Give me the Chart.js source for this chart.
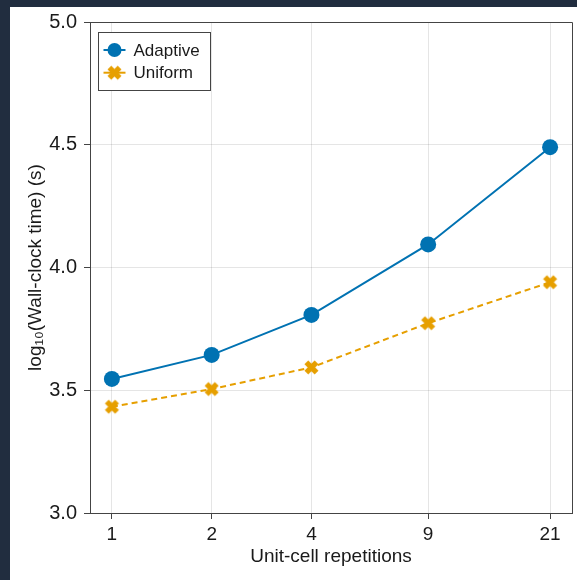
<!DOCTYPE html>
<html>
<head>
<meta charset="utf-8">
<script src="https://cdn.jsdelivr.net/npm/chart.js@4/dist/chart.umd.min.js"></script>
<style>
  html, body { margin: 0; padding: 0; background: #212d3f; width: 577px; height: 580px; overflow: hidden; }
  #panel { position: absolute; left: 10px; top: 7px; width: 567px; height: 573px; background: #ffffff; }
  canvas { display: block; }
</style>
</head>
<body>
<div id="panel"><canvas id="chart" width="567" height="573"></canvas></div>
<script>
// Unit-cell repetitions (x, log-scaled axis) and log10 wall-clock times
const repetitions = [1, 2, 4, 9, 21];
const adaptiveTimes = [3.546, 3.644, 3.807, 4.094, 4.490];
const uniformTimes = [3.433, 3.505, 3.593, 3.773, 3.940];
const yTicks = [3.0, 3.5, 4.0, 4.5, 5.0];
const seriesNames = ['Adaptive', 'Uniform'];

const BLUE = '#0072B2';
const ORANGE = '#E69F00';
const FONT = '"Liberation Sans", Arial, Helvetica, sans-serif';

// Bold "x" marker drawn once on a small canvas
function makeCross(size, color) {
  const c = document.createElement('canvas');
  c.width = size; c.height = size;
  const g = c.getContext('2d');
  g.strokeStyle = color;
  g.lineWidth = size * 0.32;
  g.lineCap = 'butt';
  const a = size * 0.2, b = size * 0.8;
  g.beginPath();
  g.moveTo(a, a); g.lineTo(b, b);
  g.moveTo(b, a); g.lineTo(a, b);
  g.stroke();
  return c;
}
const crossMarker = makeCross(17, ORANGE);

const toPoints = (xs, ys) => xs.map((x, i) => ({ x: x, y: ys[i] }));

// Keep the plot box fixed: no extra room for overhanging tick labels
function noLabelPadding(axis) {
  axis.paddingTop = 0;
  axis.paddingBottom = 0;
  axis.paddingLeft = 0;
  axis.paddingRight = 0;
}

// Top/right frame lines of the plot box
const framePlugin = {
  id: 'frame',
  beforeDatasetsDraw(chart) {
    const { ctx, chartArea: a } = chart;
    ctx.save();
    ctx.strokeStyle = '#444';
    ctx.lineWidth = 1;
    ctx.beginPath();
    ctx.moveTo(a.left, a.top + 0.5);
    ctx.lineTo(a.right + 0.5, a.top + 0.5);
    ctx.lineTo(a.right + 0.5, a.bottom);
    ctx.stroke();
    ctx.restore();
  }
};

// Boxed legend in the upper-left corner of the plot
const legendPlugin = {
  id: 'boxLegend',
  afterDraw(chart) {
    const { ctx, chartArea: a } = chart;
    const x0 = a.left + 8.5, y0 = a.top + 10.5, w = 112, h = 58;
    ctx.save();
    ctx.fillStyle = '#fff';
    ctx.fillRect(x0, y0, w, h);
    ctx.strokeStyle = '#444';
    ctx.lineWidth = 1;
    ctx.strokeRect(x0, y0, w, h);
    chart.data.datasets.forEach((ds, i) => {
      const cy = y0 + 17.5 + i * 22.7;
      const mx = x0 + 16;
      ctx.strokeStyle = ds.borderColor;
      ctx.lineWidth = 2;
      ctx.beginPath();
      ctx.moveTo(mx - 11, cy);
      ctx.lineTo(mx + 11, cy);
      ctx.stroke();
      if (i === 0) {
        ctx.fillStyle = ds.borderColor;
        ctx.beginPath();
        ctx.arc(mx, cy, 7, 0, Math.PI * 2);
        ctx.fill();
      } else {
        ctx.drawImage(crossMarker, mx - crossMarker.width / 2, cy - crossMarker.height / 2);
      }
      ctx.fillStyle = '#1a1a1a';
      ctx.font = '17px ' + FONT;
      ctx.textAlign = 'left';
      ctx.textBaseline = 'middle';
      ctx.fillText(ds.label, x0 + 35, cy + 1);
    });
    ctx.restore();
  }
};

new Chart(document.getElementById('chart'), {
  type: 'line',
  data: {
    datasets: [
      {
        label: seriesNames[0],
        data: toPoints(repetitions, adaptiveTimes),
        borderColor: BLUE,
        backgroundColor: BLUE,
        borderWidth: 2,
        pointStyle: 'circle',
        pointRadius: 8,
        pointHoverRadius: 8,
        pointBorderWidth: 0,
        tension: 0
      },
      {
        label: seriesNames[1],
        data: toPoints(repetitions, uniformTimes),
        borderColor: ORANGE,
        backgroundColor: ORANGE,
        borderWidth: 2,
        borderDash: [6, 4],
        pointStyle: crossMarker,
        pointRadius: 8,
        pointHoverRadius: 8,
        tension: 0
      }
    ]
  },
  options: {
    responsive: false,
    devicePixelRatio: 1,
    animation: false,
    events: [],
    layout: { autoPadding: false, padding: { left: 0, top: 15, right: 5, bottom: 0 } },
    plugins: { legend: { display: false }, tooltip: { enabled: false } },
    scales: {
      x: {
        type: 'logarithmic',
        min: Math.pow(10, -0.0661),
        max: Math.pow(10, 1.3883),
        afterBuildTicks(axis) { axis.ticks = repetitions.map(v => ({ value: v })); },
        afterFit(axis) { axis.height = 67; noLabelPadding(axis); },
        ticks: {
          callback: (v) => String(v),
          color: '#1a1a1a',
          font: { family: FONT, size: 19 },
          padding: 4,
          maxRotation: 0,
          autoSkip: false
        },
        grid: { color: 'rgba(0,0,0,0.1)', lineWidth: 1, tickLength: 6, tickColor: '#444', drawTicks: true },
        border: { color: '#444', width: 1 },
        title: {
          display: true,
          text: 'Unit-cell repetitions',
          color: '#1a1a1a',
          font: { family: FONT, size: 19 },
          padding: { top: 0, bottom: 12 }
        }
      },
      y: {
        type: 'linear',
        min: 3,
        max: 5,
        afterBuildTicks(axis) { axis.ticks = yTicks.map(v => ({ value: v })); },
        afterFit(axis) { axis.width = 80; noLabelPadding(axis); },
        ticks: {
          callback: (v) => Number(v).toFixed(1),
          color: '#1a1a1a',
          font: { family: FONT, size: 20 },
          padding: 7
        },
        grid: { color: 'rgba(0,0,0,0.1)', lineWidth: 1, tickLength: 6, tickColor: '#444', drawTicks: true },
        border: { color: '#444', width: 1 },
        title: {
          display: true,
          text: 'log\u2081\u2080(Wall-clock time) (s)',
          color: '#1a1a1a',
          font: { family: FONT, size: 19 },
          padding: { top: 14, bottom: 0 }
        }
      }
    }
  },
  plugins: [framePlugin, legendPlugin]
});
</script>
</body>
</html>
